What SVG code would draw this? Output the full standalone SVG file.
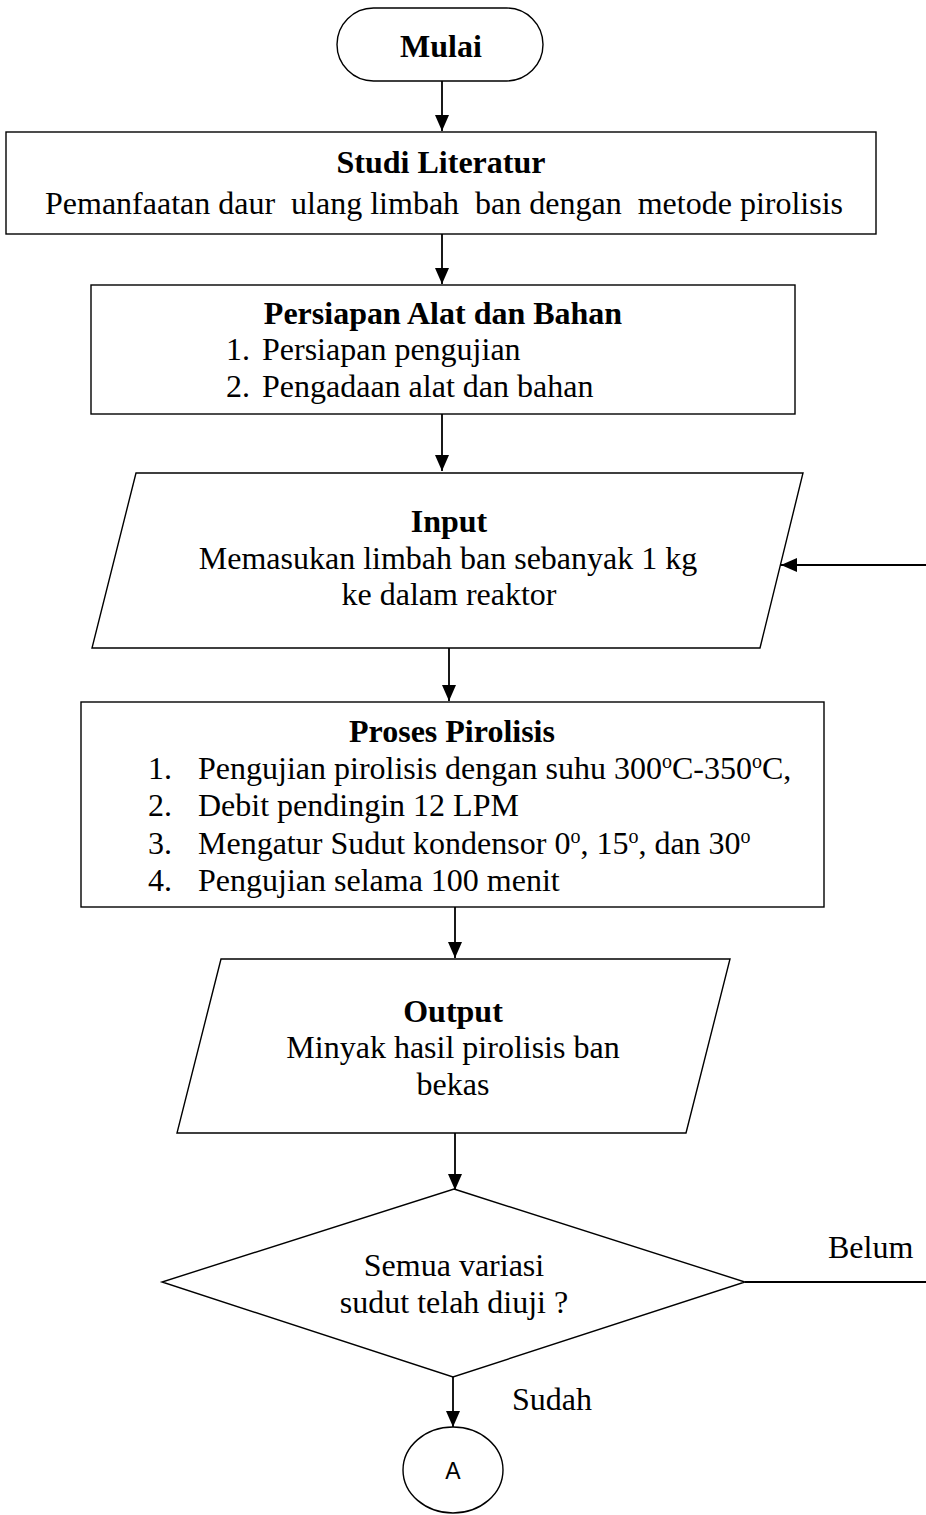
<svg xmlns="http://www.w3.org/2000/svg" width="926" height="1515" viewBox="0 0 926 1515">
<style>
.shape{fill:#fff;stroke:#000;stroke-width:1.4}
.t{font-family:"Liberation Serif","Times New Roman",serif;font-size:32px;fill:#000}
.c{text-anchor:middle}
.b{font-weight:bold}
.line{stroke:#000;stroke-width:1.8;fill:none}
.sans{font-family:"Liberation Sans",Arial,sans-serif;font-size:23px;fill:#000;text-anchor:middle}
</style>
<defs>
<marker id="arrL" viewBox="0 0 16 14" refX="16" refY="7" markerWidth="16" markerHeight="14" markerUnits="userSpaceOnUse" orient="auto">
<path d="M0,0 L16,7 L0,14 z" fill="#000"/>
</marker>
</defs>
<rect width="926" height="1515" fill="#fff"/>
<g id="connectors">
<line class="line" x1="442" y1="81" x2="442" y2="131" marker-end="url(#arrL)"/>
<line class="line" x1="442" y1="234" x2="442" y2="284" marker-end="url(#arrL)"/>
<line class="line" x1="442" y1="414" x2="442" y2="471" marker-end="url(#arrL)"/>
<line class="line" x1="449" y1="648" x2="449" y2="701" marker-end="url(#arrL)"/>
<line class="line" x1="455" y1="907" x2="455" y2="958" marker-end="url(#arrL)"/>
<line class="line" x1="455" y1="1133" x2="455" y2="1190" marker-end="url(#arrL)"/>
<line class="line" x1="453" y1="1377" x2="453" y2="1427" marker-end="url(#arrL)"/>
<line class="line" x1="745" y1="1282" x2="926" y2="1282"/>
<line class="line" x1="926" y1="565" x2="781" y2="565" marker-end="url(#arrL)"/>
<text class="t" x="828" y="1258">Belum</text>
<text class="t" x="512" y="1410">Sudah</text>
</g>
<g id="mulai">
<rect class="shape" x="337" y="8" width="206" height="73" rx="36.5" ry="36.5"/>
<text class="t c b" x="441" y="57">Mulai</text>
</g>
<g id="studi">
<rect class="shape" x="6" y="132" width="870" height="102"/>
<text class="t c b" x="441" y="173">Studi Literatur</text>
<text class="t c" x="444" y="214" xml:space="preserve">Pemanfaatan daur  ulang limbah  ban dengan  metode pirolisis</text>
</g>
<g id="persiapan">
<rect class="shape" x="91" y="285" width="704" height="129"/>
<text class="t c b" x="443" y="324">Persiapan Alat dan Bahan</text>
<text class="t" x="226" y="360">1.</text>
<text class="t" x="262" y="360">Persiapan pengujian</text>
<text class="t" x="226" y="397">2.</text>
<text class="t" x="262" y="397">Pengadaan alat dan bahan</text>
</g>
<g id="input">
<polygon class="shape" points="136,473 803,473 760,648 92,648"/>
<text class="t c b" x="449" y="532">Input</text>
<text class="t c" x="448" y="569">Memasukan limbah ban sebanyak 1 kg</text>
<text class="t c" x="449" y="605">ke dalam reaktor</text>
</g>
<g id="proses">
<rect class="shape" x="81" y="702" width="743" height="205"/>
<text class="t c b" x="452" y="742">Proses Pirolisis</text>
<text class="t" x="148" y="779">1.</text>
<text class="t" x="198" y="779">Pengujian pirolisis dengan suhu 300<tspan baseline-shift="super" font-size="20">o</tspan>C-350<tspan baseline-shift="super" font-size="20">o</tspan>C,</text>
<text class="t" x="148" y="816">2.</text>
<text class="t" x="198" y="816">Debit pendingin 12 LPM</text>
<text class="t" x="148" y="854">3.</text>
<text class="t" x="198" y="854">Mengatur Sudut kondensor 0<tspan baseline-shift="super" font-size="20">o</tspan>, 15<tspan baseline-shift="super" font-size="20">o</tspan>, dan 30<tspan baseline-shift="super" font-size="20">o</tspan></text>
<text class="t" x="148" y="891">4.</text>
<text class="t" x="198" y="891">Pengujian selama 100 menit</text>
</g>
<g id="output">
<polygon class="shape" points="221,959 730,959 686,1133 177,1133"/>
<text class="t c b" x="453" y="1022">Output</text>
<text class="t c" x="453" y="1058">Minyak hasil pirolisis ban</text>
<text class="t c" x="453" y="1095">bekas</text>
</g>
<g id="keputusan">
<polygon class="shape" points="454,1189 745,1282 453,1377 162,1282"/>
<text class="t c" x="454" y="1276">Semua variasi</text>
<text class="t c" x="454" y="1313">sudut telah diuji ?</text>
</g>
<g id="konektor-a">
<ellipse class="shape" cx="453" cy="1470" rx="50" ry="43"/>
<text class="sans" x="453" y="1479">A</text>
</g>
</svg>
